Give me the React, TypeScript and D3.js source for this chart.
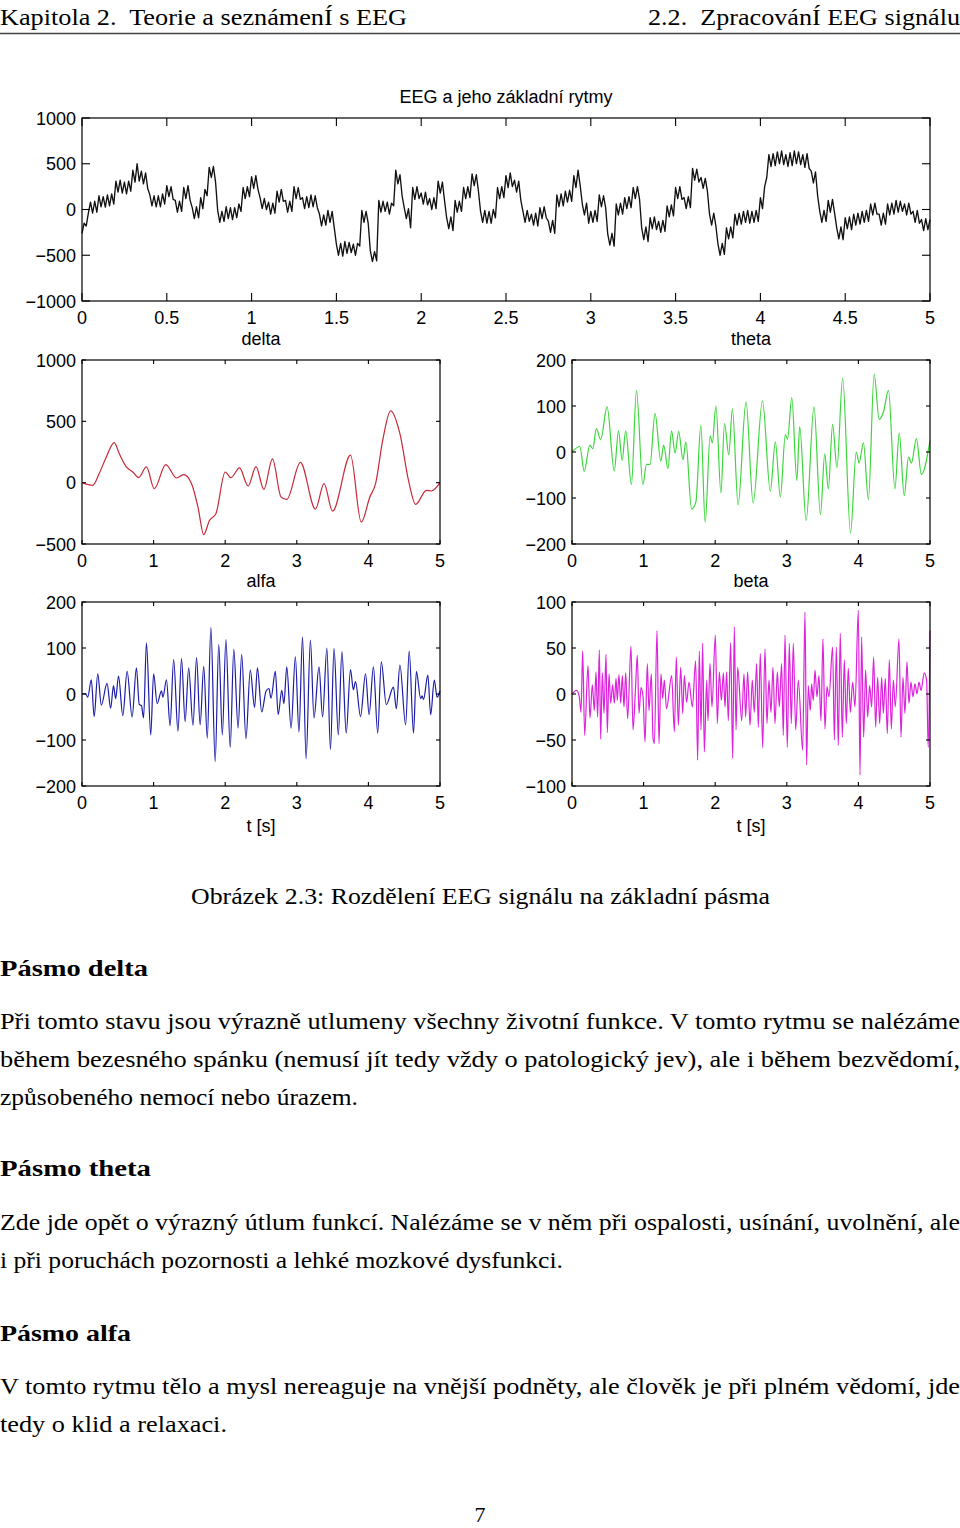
import React from "react";
import * as d3 from "d3";

// ---------- DATA ----------
const TIME_RANGE = [0, 5];

// Full EEG trace (top), evenly sampled over 0..5 s
const EEG_VALUES = [
  -260,-150,-180,-40, 80,-40,90,-30, 150,30,140,25, 160,40,170,60,
  310,190,320,180, 300,170,310,200, 430,300,500,310, 420,280,400,230,
  160,40,150,30, 150,30,170,60, 260,140,250,110, 100,-30,90,-20,
  240,120,260,100, 20,-100,30,-90, 130,10,220,150, 460,350,470,300,
  -10,-140,-20,-130, 30,-100,20,-110, 20,-90,60,-20, 240,120,250,140,
  360,230,370,220, 130,10,120,0, 80,-50,70,-40, 200,80,220,90,
  100,-30,90,-20, 250,120,240,110, 130,10,140,20, 160,30,150,20,
  -50,-180,-60,-170, -10,-140,-20,-200, -380,-500,-370,-510, -350,-480,-360,-470,
  -380,-500,-370,-400, -10,-140,-20,-150, -450,-570,-460,-560, 100,-30,90,-20,
  80,-50,70,40, 430,280,380,150, 20,-100,10,-200, 240,110,250,120,
  180,60,190,50, 120,0,130,10, 310,180,300,100, -90,-210,-80,-230,
  100,-30,90,-20, 240,120,250,130, 390,260,380,200, -20,-140,-10,-150,
  -20,-150,0,-90, 240,120,250,130, 370,240,400,250, 320,190,310,100,
  -20,-140,-10,-130, -50,-170,-40,-180, 20,-100,30,-90, -130,-250,-120,-260,
  160,30,170,40, 200,80,210,90, 370,240,430,260, 60,-60,70,-150,
  -20,-140,-10,-130, 160,30,150,20, -270,-390,-260,-400, 60,-60,70,-50,
  130,10,140,20, 240,120,250,110, -200,-330,-190,-350, -90,-210,-80,-220,
  -130,-250,-120,-240, 40,-80,50,-70, 240,120,250,110, 130,10,140,20,
  450,320,440,300, 350,230,340,200, -50,-170,-40,-180, -380,-500,-370,-490,
  -200,-320,-190,-310, -50,-170,-40,-160, -20,-140,-10,-150, -20,-140,-10,-130,
  130,10,250,350, 600,470,610,480, 630,500,640,490, 600,470,620,480,
  640,500,630,490, 600,460,610,450, 420,290,410,150, -20,-140,-10,-130,
  100,-30,110,-40, -200,-320,-190,-330, -90,-210,-80,-220, -50,-170,-40,-160,
  -20,-140,-10,-130, 60,-60,70,-50, -50,-170,-40,-160, 60,-60,70,-50,
  100,-30,90,-20, 60,-60,70,-50, -20,-140,-10,-150, -110,-230,-100,-220,
  -110,
];

const DELTA_T = [0,0.15,0.24,0.34,0.45,0.52,0.62,0.71,0.79,0.90,1.01,1.17,1.32,1.42,1.53,1.62,1.70,1.78,1.87,2.00,2.08,2.20,2.32,2.43,2.54,2.66,2.78,2.86,3.05,3.26,3.38,3.50,3.75,3.90,4.02,4.10,4.20,4.31,4.44,4.56,4.66,4.81,4.88,5.0];
const DELTA_V = [0,-22,74,210,327,237,128,87,41,128,-49,147,38,65,-8,-200,-423,-308,-254,87,41,120,-27,131,-55,194,-117,-136,166,-215,-8,-232,224,-322,-117,-8,346,586,400,19,-177,-63,-68,0];

const THETA_T = [0,0.11,0.17,0.25,0.29,0.34,0.40,0.49,0.59,0.65,0.70,0.75,0.83,0.90,0.99,1.04,1.09,1.16,1.24,1.28,1.34,1.39,1.44,1.49,1.55,1.59,1.67,1.73,1.80,1.86,1.93,1.96,2.01,2.08,2.13,2.19,2.24,2.32,2.43,2.53,2.66,2.77,2.84,2.91,2.98,3.01,3.07,3.14,3.18,3.27,3.38,3.47,3.53,3.58,3.64,3.70,3.78,3.89,3.97,4.01,4.07,4.14,4.22,4.29,4.35,4.42,4.51,4.57,4.64,4.70,4.74,4.81,4.88,5.0];
const THETA_V = [0,12,-42,15,7,51,27,98,-41,46,-18,46,-71,134,-71,-27,-27,84,-20,15,-36,46,-2,45,-17,22,-124,-109,58,-153,35,20,100,-89,62,-6,94,-115,109,-111,111,-85,22,-98,38,28,118,-62,55,-149,98,-136,-4,-80,60,-34,160,-176,0,-24,20,-103,169,71,87,134,-80,41,-95,-11,-24,29,-49,25];

const ALFA_T = [0,0.05,0.08,0.13,0.17,0.22,0.27,0.35,0.40,0.44,0.47,0.51,0.57,0.63,0.70,0.76,0.80,0.83,0.86,0.90,0.96,1.00,1.05,1.11,1.13,1.18,1.23,1.28,1.34,1.39,1.44,1.49,1.55,1.60,1.65,1.70,1.75,1.80,1.86,1.91,1.96,2.01,2.07,2.12,2.18,2.23,2.29,2.35,2.41,2.45,2.51,2.57,2.61,2.64,2.70,2.74,2.79,2.82,2.86,2.92,2.98,3.03,3.08,3.13,3.19,3.24,3.31,3.36,3.42,3.47,3.52,3.58,3.63,3.69,3.75,3.79,3.82,3.89,3.96,4.01,4.07,4.13,4.18,4.25,4.35,4.39,4.44,4.52,4.57,4.63,4.67,4.73,4.75,4.77,4.83,4.87,4.92,4.96,5.0];
const ALFA_V = [0,1,-7,31,-49,44,-24,23,-31,18,-10,39,-47,49,-50,57,-23,-25,-52,111,-89,44,-21,7,-7,31,-69,75,-81,77,-60,57,-68,79,-67,60,-96,145,-147,108,-89,118,-116,97,-74,86,-97,52,-29,57,-39,6,12,-9,49,-45,8,-21,59,-74,81,-83,124,-141,117,-52,59,-50,100,-121,99,-89,92,-85,53,9,27,-49,44,-45,59,-85,70,-23,15,-32,63,-67,93,-85,49,-10,-4,-12,41,-45,30,-7,7];

const BETA_T = [0,0.065,0.102,0.126,0.149,0.177,0.223,0.251,0.284,0.312,0.335,0.358,0.382,0.400,0.424,0.447,0.475,0.493,0.517,0.540,0.568,0.591,0.615,0.633,0.656,0.680,0.703,0.726,0.750,0.777,0.824,0.852,0.885,0.912,0.936,0.964,0.992,1.020,1.052,1.075,1.108,1.131,1.150,1.187,1.215,1.243,1.266,1.290,1.320,1.392,1.429,1.457,1.485,1.518,1.546,1.569,1.601,1.634,1.681,1.727,1.755,1.778,1.802,1.825,1.848,1.881,1.899,1.927,1.955,2.002,2.030,2.058,2.086,2.114,2.137,2.160,2.183,2.216,2.244,2.267,2.291,2.314,2.370,2.402,2.425,2.453,2.486,2.518,2.546,2.579,2.602,2.630,2.663,2.695,2.723,2.751,2.779,2.807,2.835,2.868,2.895,2.928,2.951,2.975,3.007,3.035,3.063,3.091,3.124,3.161,3.221,3.254,3.277,3.300,3.328,3.347,3.370,3.394,3.421,3.449,3.477,3.505,3.533,3.561,3.589,3.640,3.664,3.692,3.719,3.747,3.775,3.803,3.831,3.859,3.887,3.920,3.952,3.999,4.022,4.045,4.073,4.101,4.129,4.157,4.185,4.213,4.241,4.269,4.297,4.325,4.348,4.376,4.404,4.432,4.460,4.488,4.515,4.567,4.595,4.622,4.650,4.678,4.706,4.734,4.762,4.790,4.818,4.846,4.874,4.920,4.953,4.975,5.0];
const BETA_V = [0,4,-3,-20,47,-45,31,-26,10,-18,24,-25,48,-49,23,-21,43,-42,22,-10,10,-10,17,-7,21,-10,20,-14,23,-27,52,-39,3,42,-21,7,-3,-52,33,-18,22,-47,-54,69,-54,22,-5,15,-16,20,-41,40,-34,29,-21,20,-9,13,-14,36,-72,47,-39,55,-63,15,-29,33,-14,64,-32,24,-7,23,-14,24,-29,56,-70,73,-39,29,-29,22,-25,24,-34,15,-20,33,-36,44,-58,49,-32,15,-20,29,-32,24,-14,33,-45,64,-58,55,-32,55,-39,15,-61,89,-77,9,-18,11,-7,26,-3,20,-29,60,-38,8,-3,51,-50,51,-56,66,-47,37,-32,28,-20,13,-14,91,-88,62,-47,26,-25,9,-14,40,-36,18,-32,18,-21,17,-43,37,-38,15,-14,60,-47,18,-21,35,-10,13,-3,11,0,13,4,23,15,-58,69];

const TOP_X_TICKS = [0, 0.5, 1, 1.5, 2, 2.5, 3, 3.5, 4, 4.5, 5];
const TOP_Y_TICKS = [-1000, -500, 0, 500, 1000];
const BAND_X_TICKS = [0, 1, 2, 3, 4, 5];
const DELTA_Y_TICKS = [-500, 0, 500, 1000];
const THETA_Y_TICKS = [-200, -100, 0, 100, 200];
const ALFA_Y_TICKS = [-200, -100, 0, 100, 200];
const BETA_Y_TICKS = [-100, -50, 0, 50, 100];

const HEADER_LEFT = "Kapitola 2.  Teorie a seznámenÍ s EEG";
const HEADER_RIGHT = "2.2.  ZpracovánÍ EEG signálu";
const CAPTION = "Obrázek 2.3: Rozdělení EEG signálu na základní pásma";
const TEXT_BLOCKS = [
  { kind: "h", text: "Pásmo delta", y: 976, w: 148 },
  { kind: "p", text: "Při tomto stavu jsou výrazně utlumeny všechny životní funkce. V tomto rytmu se nalézáme", y: 1029, w: 960 },
  { kind: "p", text: "během bezesného spánku (nemusí jít tedy vždy o patologický jev), ale i během bezvědomí,", y: 1067, w: 960 },
  { kind: "p", text: "způsobeného nemocí nebo úrazem.", y: 1105, w: 358 },
  { kind: "h", text: "Pásmo theta", y: 1176, w: 151 },
  { kind: "p", text: "Zde jde opět o výrazný útlum funkcí. Nalézáme se v něm při ospalosti, usínání, uvolnění, ale", y: 1230, w: 960 },
  { kind: "p", text: "i při poruchách pozornosti a lehké mozkové dysfunkci.", y: 1268, w: 563 },
  { kind: "h", text: "Pásmo alfa", y: 1341, w: 131 },
  { kind: "p", text: "V tomto rytmu tělo a mysl nereaguje na vnější podněty, ale člověk je při plném vědomí, jde", y: 1394, w: 960 },
  { kind: "p", text: "tedy o klid a relaxaci.", y: 1432, w: 227 },
];

// ---------- COMPONENTS ----------
const SANS = "Liberation Sans, Arial, Helvetica, sans-serif";
const SERIF = "Liberation Serif, Times New Roman, Times, serif";

const fmt = (v: number) => (v < 0 ? "\u2212" + Math.abs(v) : String(v));

type PanelProps = {
  box: [number, number, number, number]; // left, top, right, bottom
  yDomain: [number, number];
  xTicks: number[];
  yTicks: number[];
  ts: number[];
  vs: number[];
  color: string;
  title: string;
  xlabel?: string;
  tickLen: number;
  smooth: boolean;
  width?: number;
};

function Panel(p: PanelProps) {
  const [l, t, r, b] = p.box;
  const x = d3.scaleLinear().domain(TIME_RANGE).range([l, r]);
  const y = d3.scaleLinear().domain(p.yDomain).range([b, t]);
  const pts = p.ts.map((tt, i) => [tt, p.vs[i]] as [number, number]);
  const line = d3
    .line<[number, number]>()
    .x((d) => x(d[0]))
    .y((d) => y(d[1]))
    .curve(p.smooth ? d3.curveMonotoneX : d3.curveLinear);
  const fs = 18;
  return (
    <g>
      <text x={(l + r) / 2} y={t - 15} textAnchor="middle" fontFamily={SANS} fontSize={fs} fill="#000">
        {p.title}
      </text>
      <path d={line(pts) || ""} fill="none" stroke={p.color} strokeWidth={p.width ?? 1.2} strokeLinejoin="round" />
      <rect x={l} y={t} width={r - l} height={b - t} fill="none" stroke="#000" strokeWidth={1.2} />
      {p.xTicks.map((v) => (
        <g key={"x" + v}>
          <line x1={x(v)} x2={x(v)} y1={b} y2={b - p.tickLen} stroke="#000" strokeWidth={1.1} />
          <line x1={x(v)} x2={x(v)} y1={t} y2={t + p.tickLen} stroke="#000" strokeWidth={1.1} />
          <text x={x(v)} y={b + 23} textAnchor="middle" fontFamily={SANS} fontSize={fs} fill="#000">
            {fmt(v)}
          </text>
        </g>
      ))}
      {p.yTicks.map((v) => (
        <g key={"y" + v}>
          <line x1={l} x2={l + p.tickLen} y1={y(v)} y2={y(v)} stroke="#000" strokeWidth={1.1} />
          <line x1={r} x2={r - p.tickLen} y1={y(v)} y2={y(v)} stroke="#000" strokeWidth={1.1} />
          <text x={l - 6} y={y(v) + 6.5} textAnchor="end" fontFamily={SANS} fontSize={fs} fill="#000">
            {fmt(v)}
          </text>
        </g>
      ))}
      {p.xlabel && (
        <text x={(l + r) / 2} y={b + 46} textAnchor="middle" fontFamily={SANS} fontSize={fs} fill="#000">
          {p.xlabel}
        </text>
      )}
    </g>
  );
}

export default function App() {
  const eegT = EEG_VALUES.map((_, i) => (i * 5) / (EEG_VALUES.length - 1));
  return (
    <svg
      width={960}
      height={1528}
      viewBox="0 0 960 1528"
      style={{ position: "absolute", left: 0, top: 0, background: "#fff" }}
    >
      <rect x={0} y={0} width={960} height={1528} fill="#fff" />
      {/* running header */}
      <text x={0} y={25} fontFamily={SERIF} fontSize={24} style={{ whiteSpace: "pre" }} textLength={407} lengthAdjust="spacingAndGlyphs">
        {HEADER_LEFT}
      </text>
      <text x={648} y={25} fontFamily={SERIF} fontSize={24} style={{ whiteSpace: "pre" }} textLength={312} lengthAdjust="spacingAndGlyphs">
        {HEADER_RIGHT}
      </text>
      <line x1={0} x2={960} y1={33.5} y2={33.5} stroke="#444" strokeWidth={1.5} />

      <Panel box={[82, 118, 930, 301]} yDomain={[-1000, 1000]} xTicks={TOP_X_TICKS} yTicks={TOP_Y_TICKS}
        ts={eegT} vs={EEG_VALUES} color="#111" title="EEG a jeho základní rytmy" tickLen={8} smooth={false} width={1.35} />
      <Panel box={[82, 360, 440, 544]} yDomain={[-500, 1000]} xTicks={BAND_X_TICKS} yTicks={DELTA_Y_TICKS}
        ts={DELTA_T} vs={DELTA_V} color="#c82838" title="delta" tickLen={4} smooth={true} />
      <Panel box={[572, 360, 930, 544]} yDomain={[-200, 200]} xTicks={BAND_X_TICKS} yTicks={THETA_Y_TICKS}
        ts={THETA_T} vs={THETA_V} color="#3cd63c" title="theta" tickLen={4} smooth={true} />
      <Panel box={[82, 602, 440, 786]} yDomain={[-200, 200]} xTicks={BAND_X_TICKS} yTicks={ALFA_Y_TICKS}
        ts={ALFA_T} vs={ALFA_V} color="#1c1ca8" title="alfa" xlabel="t [s]" tickLen={4} smooth={true} />
      <Panel box={[572, 602, 930, 786]} yDomain={[-100, 100]} xTicks={BAND_X_TICKS} yTicks={BETA_Y_TICKS}
        ts={BETA_T} vs={BETA_V} color="#dc22dc" title="beta" xlabel="t [s]" tickLen={4} smooth={true} />

      <text x={191} y={904} fontFamily={SERIF} fontSize={23} textLength={579} lengthAdjust="spacingAndGlyphs">
        {CAPTION}
      </text>
      {TEXT_BLOCKS.map((blk, i) => (
        <text key={i} x={0} y={blk.y} fontFamily={SERIF} fontSize={blk.kind === "h" ? 24 : 23}
          fontWeight={blk.kind === "h" ? "bold" : "normal"} textLength={blk.w} lengthAdjust="spacingAndGlyphs">
          {blk.text}
        </text>
      ))}
      <text x={480} y={1522} textAnchor="middle" fontFamily={SERIF} fontSize={22}>7</text>
    </svg>
  );
}
